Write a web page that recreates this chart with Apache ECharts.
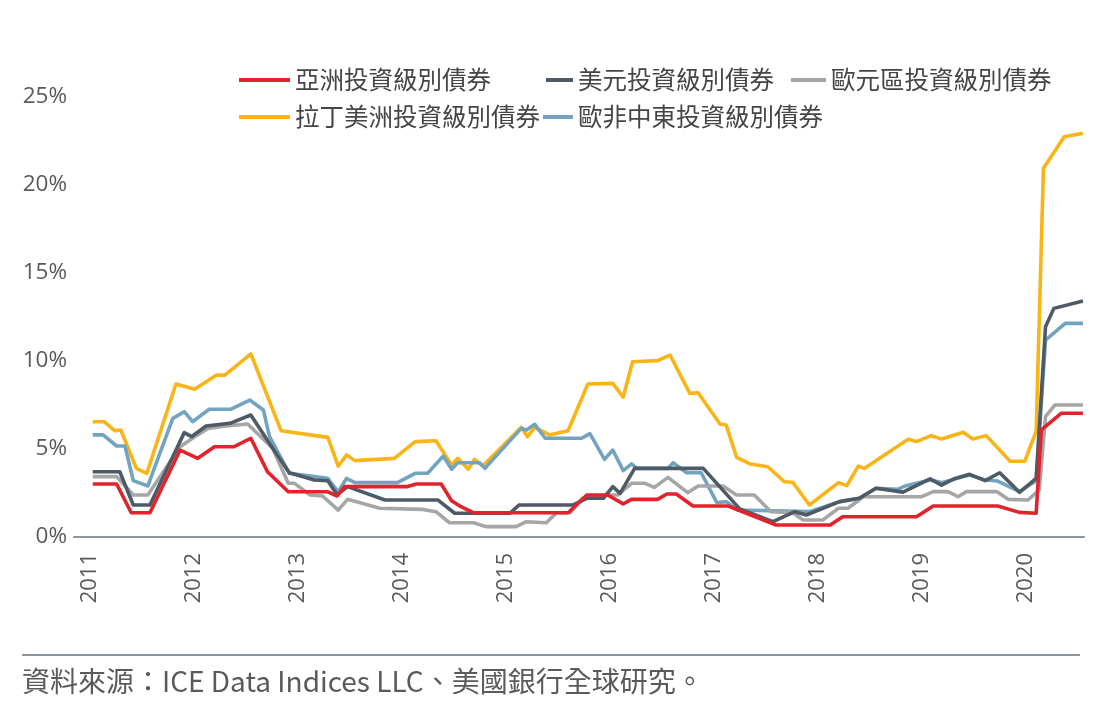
<!DOCTYPE html>
<html>
<head>
<meta charset="utf-8">
<script src="https://cdn.jsdelivr.net/npm/echarts@6/dist/echarts.min.js"></script>
<style>html,body{margin:0;padding:0;background:#fff;}#c{width:1107px;height:714px;}</style>
</head>
<body>
<div id="c"></div>
<script>
// ---- data (x = decimal year, y = %) ----
const yearTicks = [2011, 2012, 2013, 2014, 2015, 2016, 2017, 2018, 2019, 2020];
const seriesNames = ['亞洲投資級別債券', '美元投資級別債券', '歐元區投資級別債券', '拉丁美洲投資級別債券', '歐非中東投資級別債券'];

const asiaYears = [2011.03,2011.26,2011.40,2011.58,2011.87,2012.04,2012.20,2012.39,2012.55,2012.71,2012.91,2013.29,2013.38,2013.45,2014.05,2014.14,2014.38,2014.48,2014.57,2014.69,2015.60,2015.78,2015.98,2016.13,2016.21,2016.46,2016.55,2016.64,2016.80,2017.14,2017.60,2018.12,2018.24,2018.95,2019.11,2019.73,2019.94,2020.10,2020.15,2020.34,2020.55];
const asiaValues = [3.01,3.01,1.38,1.38,4.94,4.47,5.13,5.13,5.61,3.71,2.57,2.57,2.33,2.86,2.86,3.01,3.01,2.06,1.72,1.38,1.38,2.39,2.39,1.88,2.14,2.14,2.44,2.44,1.76,1.76,0.68,0.68,1.15,1.15,1.76,1.76,1.40,1.35,6.08,7.03,7.03];

const usdYears = [2011.03,2011.29,2011.42,2011.58,2011.91,2011.98,2012.12,2012.35,2012.55,2012.75,2012.92,2013.16,2013.29,2013.38,2013.48,2013.84,2014.35,2014.51,2015.04,2015.13,2015.65,2015.78,2015.94,2016.03,2016.10,2016.24,2016.90,2017.25,2017.57,2017.78,2017.89,2018.21,2018.40,2018.56,2018.82,2019.08,2019.19,2019.32,2019.46,2019.61,2019.75,2019.94,2020.10,2020.19,2020.27,2020.55];
const usdValues = [3.71,3.71,1.82,1.82,5.93,5.70,6.31,6.46,6.93,5.13,3.65,3.24,3.20,2.39,2.86,2.10,2.10,1.35,1.35,1.82,1.82,2.20,2.20,2.86,2.48,3.90,3.90,1.60,0.87,1.44,1.25,2.01,2.20,2.77,2.55,3.30,2.95,3.33,3.56,3.20,3.65,2.54,3.33,11.95,12.99,13.41];

const eurYears = [2011.03,2011.26,2011.42,2011.56,2011.87,2012.01,2012.14,2012.31,2012.52,2012.76,2012.91,2012.97,2013.12,2013.24,2013.39,2013.48,2013.79,2014.20,2014.33,2014.46,2014.69,2014.81,2015.10,2015.20,2015.39,2015.49,2015.62,2015.74,2015.98,2016.08,2016.21,2016.34,2016.43,2016.56,2016.75,2016.85,2017.09,2017.22,2017.39,2017.55,2017.76,2017.86,2018.05,2018.20,2018.29,2018.44,2019.00,2019.11,2019.25,2019.35,2019.43,2019.72,2019.83,2020.02,2020.13,2020.19,2020.28,2020.55];
const eurValues = [3.43,3.43,2.39,2.39,5.13,5.70,6.17,6.31,6.42,5.04,3.05,3.05,2.39,2.33,1.53,2.14,1.63,1.57,1.44,0.81,0.81,0.59,0.59,0.87,0.81,1.38,1.38,2.20,2.39,2.39,3.05,3.05,2.82,3.39,2.52,2.90,2.90,2.39,2.39,1.44,1.38,0.97,0.97,1.63,1.63,2.29,2.29,2.58,2.58,2.29,2.58,2.58,2.14,2.10,2.67,6.84,7.50,7.50];

const latamYears = [2011.03,2011.14,2011.24,2011.30,2011.45,2011.55,2011.83,2012.01,2012.22,2012.30,2012.55,2012.84,2013.29,2013.39,2013.47,2013.55,2013.93,2014.13,2014.33,2014.48,2014.54,2014.64,2014.70,2014.78,2015.15,2015.21,2015.28,2015.42,2015.60,2015.79,2016.03,2016.13,2016.22,2016.46,2016.58,2016.77,2016.85,2017.06,2017.12,2017.22,2017.35,2017.52,2017.68,2017.76,2017.92,2018.20,2018.28,2018.39,2018.45,2018.87,2018.95,2019.09,2019.19,2019.40,2019.49,2019.62,2019.85,2019.99,2020.10,2020.17,2020.37,2020.55];
const latamValues = [6.55,6.55,6.04,6.08,3.90,3.62,8.69,8.39,9.20,9.20,10.40,6.04,5.66,4.03,4.66,4.34,4.47,5.42,5.47,4.09,4.47,3.85,4.41,4.03,6.23,5.70,6.23,5.80,6.04,8.69,8.73,7.94,9.96,10.02,10.34,8.16,8.20,6.42,6.36,4.53,4.15,3.99,3.14,3.11,1.82,3.09,2.92,4.03,3.90,5.55,5.42,5.76,5.57,5.95,5.57,5.76,4.30,4.30,6.00,20.95,22.74,22.94];

const emeaYears = [2011.03,2011.13,2011.26,2011.34,2011.42,2011.56,2011.80,2011.91,2011.99,2012.15,2012.36,2012.54,2012.67,2012.73,2012.92,2013.29,2013.39,2013.47,2013.55,2013.96,2014.13,2014.25,2014.40,2014.48,2014.54,2014.75,2014.80,2015.15,2015.20,2015.28,2015.38,2015.73,2015.81,2015.95,2016.03,2016.13,2016.21,2016.26,2016.56,2016.61,2016.74,2016.88,2017.03,2017.12,2017.23,2017.92,2018.21,2018.40,2018.56,2018.77,2018.84,2019.08,2019.19,2019.46,2019.61,2019.73,2019.94,2020.10,2020.19,2020.38,2020.55];
const emeaValues = [5.80,5.80,5.17,5.17,3.20,2.90,6.74,7.12,6.55,7.26,7.26,7.78,7.22,5.70,3.62,3.33,2.57,3.33,3.09,3.09,3.62,3.62,4.60,3.85,4.22,4.22,3.90,6.17,6.08,6.40,5.61,5.61,5.87,4.41,4.94,3.77,4.15,3.90,3.90,4.22,3.65,3.65,1.95,2.01,1.53,1.44,2.01,2.20,2.77,2.71,2.90,3.24,3.09,3.52,3.24,3.18,2.58,3.20,11.19,12.14,12.14];

const sourceText = '資料來源：ICE Data Indices LLC、美國銀行全球研究。';

// ---- chart ----
const colors = {
  '亞洲投資級別債券': '#e2232b',
  '美元投資級別債券': '#4e5a65',
  '歐元區投資級別債券': '#a6a6a6',
  '拉丁美洲投資級別債券': '#fbb416',
  '歐非中東投資級別債券': '#72a4c0'
};
const zip = (xs, ys) => xs.map((x, i) => [x, ys[i]]);
const mk = (name, xs, ys) => ({
  name, type: 'line', data: zip(xs, ys), showSymbol: false, symbol: 'none',
  lineStyle: { width: 3.6, color: colors[name], join: 'round' }, itemStyle: { color: colors[name] },
  animation: false
});

const cjk = "'Noto Sans CJK TC', 'Noto Sans', sans-serif";
const lat = "'Open Sans', 'Noto Sans', sans-serif";
const legendBase = (name, left, top, w) => ({
  data: [name], left, top, padding: 0, itemWidth: w, itemHeight: 4, icon: 'rect',
  itemGap: 0, selectedMode: false,
  textStyle: { fontFamily: cjk, fontSize: 24.5, color: '#454545', lineHeight: 28 }
});

const chart = echarts.init(document.getElementById('c'), null, { renderer: 'canvas' });
chart.setOption({
  backgroundColor: '#ffffff',
  animation: false,
  grid: { left: 74, right: 23, top: 97, bottom: 177, containLabel: false },
  legend: [
    legendBase(seriesNames[0], 239, 66, 51),
    legendBase(seriesNames[1], 546, 66, 27),
    legendBase(seriesNames[2], 791, 66, 35),
    legendBase(seriesNames[3], 239, 103, 51),
    legendBase(seriesNames[4], 543, 103, 30)
  ],
  xAxis: {
    type: 'value', min: 2010.85, max: 2020.56,
    axisLine: { show: true, lineStyle: { color: '#8996a1', width: 2 } },
    axisTick: { show: false },
    splitLine: { show: false },
    axisLabel: {
      customValues: yearTicks, rotate: 90, margin: 16,
      formatter: v => String(Math.round(v)),
      fontFamily: lat, fontSize: 22, color: '#5a5a5a'
    }
  },
  yAxis: {
    type: 'value', min: 0, max: 25, interval: 5,
    axisLine: { show: false }, axisTick: { show: false }, splitLine: { show: false },
    axisLabel: { formatter: '{value}%', fontFamily: lat, fontSize: 22.5, color: '#5a5a5a', margin: 7 }
  },
  series: [
    mk(seriesNames[3], latamYears, latamValues),
    mk(seriesNames[4], emeaYears, emeaValues),
    mk(seriesNames[2], eurYears, eurValues),
    mk(seriesNames[1], usdYears, usdValues),
    mk(seriesNames[0], asiaYears, asiaValues)
  ],
  graphic: [
    { type: 'line', shape: { x1: 22, y1: 655, x2: 1080, y2: 655 }, style: { stroke: '#8c949b', lineWidth: 2 } },
    { type: 'text', left: 22, top: 667, style: { text: sourceText, fontFamily: cjk, fontSize: 28, fill: '#5a5a5a' } }
  ]
});
</script>
</body>
</html>
